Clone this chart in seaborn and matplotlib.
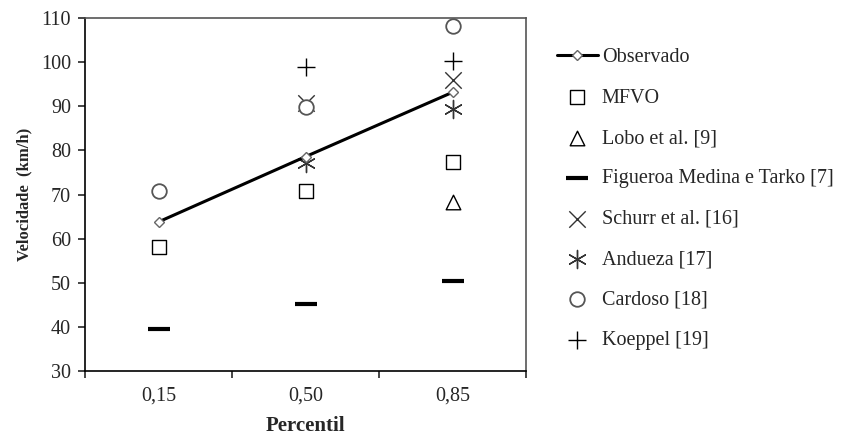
import numpy as np
import matplotlib
matplotlib.use("Agg")
import matplotlib.pyplot as plt
import seaborn as sns

# x categories (percentis)
percentis = ["0,15", "0,50", "0,85"]

observado = [63.8, 78.6, 93.2]
mfvo = [58.0, 70.8, 77.4]
lobo = [np.nan, np.nan, 68.2]
figueroa = [39.5, 45.1, 50.5]
schurr = [np.nan, 90.8, 95.9]
andueza = [np.nan, 77.2, 89.4]
cardoso = [70.8, 89.9, 108.3]
koeppel = [np.nan, 98.9, 100.2]

y_ticks = [30, 40, 50, 60, 70, 80, 90, 100, 110]

sns.set_style("ticks")
plt.rcParams["font.family"] = ["Liberation Serif", "DejaVu Serif"]

fig = plt.figure(figsize=(8.43, 4.36), dpi=100)
ax = fig.add_axes([0.1008, 0.149, 0.5237, 0.8097])
xpos = np.arange(len(percentis))

sns.lineplot(x=xpos, y=observado, ax=ax, color="black", linewidth=2.2,
             marker="D", markersize=5, markerfacecolor="white",
             markeredgecolor="#666666", markeredgewidth=1.0, label="Observado")

series = [
    ("MFVO", mfvo, "s", 110, "black", 1.0),
    ("Lobo et al. [9]", lobo, "^", 110, "black", 1.0),
    ("Figueroa Medina e Tarko [7]", figueroa, "_", 260, "black", 3.0),
    ("Schurr et al. [16]", schurr, "x", 140, "#333333", 1.0),
    ("Andueza [17]", andueza, (6, 2, 0), 170, "#333333", 1.0),
    ("Cardoso [18]", cardoso, "o", 110, "#555555", 1.3),
    ("Koeppel [19]", koeppel, "+", 160, "black", 1.0),
]
for name, vals, mk, size, col, lw in series:
    filled = mk in ("x", "_", "+") or isinstance(mk, tuple)
    if filled:
        sns.scatterplot(x=xpos, y=vals, ax=ax, marker=mk, s=size, color=col,
                        linewidth=lw, label=name)
    else:
        sns.scatterplot(x=xpos, y=vals, ax=ax, marker=mk, s=size,
                        facecolor="white", edgecolor=col, linewidth=lw, label=name)

ax.set_xlim(-0.5, 2.5)
ax.set_ylim(30, 110)
ax.set_yticks(y_ticks)
ax.set_xticks(xpos)
ax.set_xticklabels(percentis)
ax.set_xticks([-0.5, 0.5, 1.5, 2.5], minor=True)
ax.tick_params(axis="x", which="major", length=0, labelsize=14.5, pad=11)
ax.tick_params(axis="x", which="minor", length=5, width=1.2, direction="out")
ax.tick_params(axis="y", length=5, width=1.2, direction="out", labelsize=14.5, pad=5)

for side in ("left", "bottom"):
    ax.spines[side].set_color("black")
    ax.spines[side].set_linewidth(1.2)
for side in ("top", "right"):
    ax.spines[side].set_color("#555555")
    ax.spines[side].set_linewidth(1.2)

ax.set_xlabel("Percentil", fontsize=15, fontweight="bold", labelpad=8)
ax.set_ylabel("Velocidade  (km/h)", fontsize=12, fontweight="bold", labelpad=6)

leg = ax.legend(loc="upper left", bbox_to_anchor=(1.07, 0.915), frameon=False,
                fontsize=14.5, labelspacing=1.06, handlelength=2.0,
                handletextpad=0.2, borderaxespad=0, borderpad=0)

fig.savefig("out.png", dpi=100)
